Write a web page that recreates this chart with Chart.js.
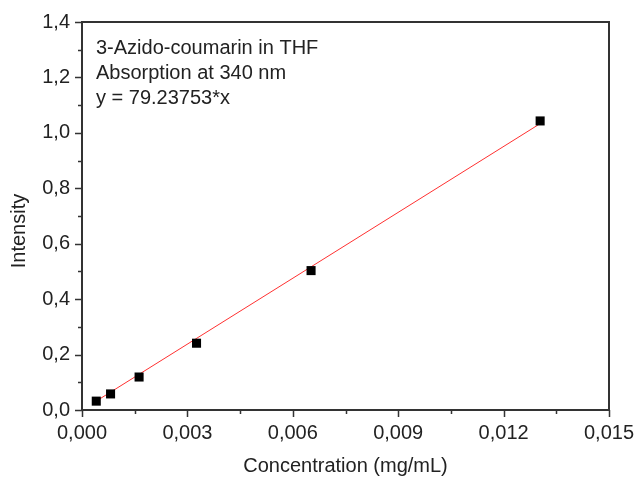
<!DOCTYPE html>
<html>
<head>
<meta charset="utf-8">
<script src="https://cdn.jsdelivr.net/npm/chart.js@4.4.1/dist/chart.umd.min.js"></script>
<style>
  html, body { margin: 0; padding: 0; background: #ffffff; }
  #wrap { width: 638px; height: 478px; }
</style>
</head>
<body>
<div id="wrap"><canvas id="c" width="638" height="478"></canvas></div>
<script>
// Calibration data: 3-azido-coumarin in THF, absorbance at 340 nm
const concentrations = [0.000406, 0.000813, 0.001625, 0.00326, 0.00652, 0.01304];
const intensities    = [0.032, 0.058, 0.119, 0.241, 0.503, 1.043];

// Linear fit through the origin
const fitSlope = 79.23753;
const fitRange = [0.000406, 0.013];

const annotationLines = ['3-Azido-coumarin in THF', 'Absorption at 340 nm', 'y = 79.23753*x'];
const xTitle = 'Concentration (mg/mL)';
const yTitle = 'Intensity';

const FONT = '"Liberation Sans", Arial, sans-serif';
const TEXT = '#222222';
const AXIS = '#333333';

const measured = concentrations.map((x, i) => ({ x: x, y: intensities[i] }));
const fitLine = fitRange.map(x => ({ x: x, y: fitSlope * x }));

const commaFmt = (v, d) => v.toFixed(d).replace('.', ',');

// Frame, major/minor tick marks, rotated y title and the text block
const framePlugin = {
  id: 'frame',
  afterDraw(chart) {
    const ctx = chart.ctx;
    const a = chart.chartArea;
    const xs = chart.scales.x, ys = chart.scales.y;
    ctx.save();
    ctx.strokeStyle = AXIS;
    ctx.lineWidth = 2;
    ctx.beginPath();
    ctx.rect(a.left, a.top, a.right - a.left, a.bottom - a.top);
    ctx.stroke();

    ctx.lineWidth = 1.5;
    ctx.beginPath();
    xs.ticks.forEach((t, i) => {
      const px = Math.round(xs.getPixelForValue(t.value)) + 0.5;
      const len = i % 2 === 0 ? 7 : 4;
      ctx.moveTo(px, a.bottom);
      ctx.lineTo(px, a.bottom + len);
    });
    ys.ticks.forEach((t, i) => {
      const py = Math.round(ys.getPixelForValue(t.value)) + 0.5;
      const len = i % 2 === 0 ? 7 : 4;
      ctx.moveTo(a.left, py);
      ctx.lineTo(a.left - len, py);
    });
    ctx.stroke();

    ctx.fillStyle = TEXT;
    ctx.font = '20px ' + FONT;
    ctx.textAlign = 'center';
    ctx.textBaseline = 'middle';
    ctx.translate(19, 231);
    ctx.rotate(-Math.PI / 2);
    ctx.fillText(yTitle, 0, 0);
    ctx.restore();

    ctx.save();
    ctx.fillStyle = TEXT;
    ctx.font = '20px ' + FONT;
    ctx.textAlign = 'left';
    ctx.textBaseline = 'middle';
    annotationLines.forEach((line, i) => {
      ctx.fillText(line, a.left + 14, a.top + 26 + i * 25);
    });
    ctx.restore();
  }
};

new Chart(document.getElementById('c'), {
  type: 'scatter',
  data: {
    datasets: [
      {
        label: 'Linear fit',
        data: fitLine,
        showLine: true,
        borderColor: '#ff3030',
        borderWidth: 1,
        pointRadius: 0,
        order: 2
      },
      {
        label: 'Measured',
        data: measured,
        pointStyle: 'rect',
        pointRadius: 6.4,
        pointHoverRadius: 6.4,
        backgroundColor: '#000000',
        borderColor: '#000000',
        borderWidth: 0,
        order: 1
      }
    ]
  },
  options: {
    responsive: false,
    animation: false,
    clip: false,
    layout: { padding: { top: 22, right: 29, left: 0, bottom: 0 } },
    plugins: {
      legend: { display: false },
      tooltip: { enabled: false }
    },
    scales: {
      x: {
        type: 'linear',
        min: 0,
        max: 0.015,
        grid: { display: false, drawTicks: false },
        border: { display: false },
        afterFit(s) { s.height = 68; s.paddingLeft = 0; s.paddingRight = 0; },
        title: {
          display: true,
          text: xTitle,
          color: TEXT,
          font: { family: FONT, size: 20 },
          padding: { top: 6, bottom: 0 }
        },
        ticks: {
          stepSize: 0.0015,
          autoSkip: false,
          maxRotation: 0,
          padding: 11,
          color: TEXT,
          font: { family: FONT, size: 20 },
          callback: (v, i) => (i % 2 === 0 ? commaFmt(v, 3) : '')
        }
      },
      y: {
        type: 'linear',
        min: 0,
        max: 1.4,
        grid: { display: false, drawTicks: false },
        border: { display: false },
        afterFit(s) { s.width = 82; s.paddingTop = 0; s.paddingBottom = 0; },
        ticks: {
          stepSize: 0.1,
          autoSkip: false,
          padding: 12,
          color: TEXT,
          font: { family: FONT, size: 20 },
          callback: (v, i) => (i % 2 === 0 ? commaFmt(v, 1) : '')
        }
      }
    }
  },
  plugins: [framePlugin]
});
</script>
</body>
</html>
